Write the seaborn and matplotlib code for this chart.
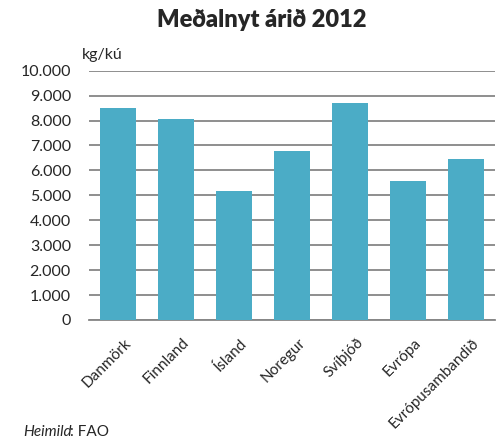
import numpy as np
import pandas as pd
import matplotlib
matplotlib.use('Agg')
import matplotlib.pyplot as plt
import matplotlib.transforms as mtransforms
import seaborn as sns

# Data (kg per cow, 2012)
countries = ['Danmörk', 'Finnland', 'Ísland', 'Noregur', 'Svíþjóð', 'Evrópa', 'Evrópusambandið']
milk_yield = [8520, 8080, 5190, 6780, 8700, 5560, 6460]
y_ticks = [0, 1000, 2000, 3000, 4000, 5000, 6000, 7000, 8000, 9000, 10000]
y_tick_labels = ['0', '1.000', '2.000', '3.000', '4.000', '5.000', '6.000', '7.000', '8.000', '9.000', '10.000']

df = pd.DataFrame({'land': countries, 'nyt': milk_yield})

sns.set_style('white')
plt.rcParams['font.family'] = ['Lato', 'DejaVu Sans']

fig = plt.figure(figsize=(5, 4.41), dpi=100)
ax = fig.add_axes([0.178, 0.2744, 0.812, 0.5653])

sns.barplot(data=df, x='land', y='nyt', color='#4BACC6', saturation=1, width=0.62,
            linewidth=0, ax=ax, zorder=3)

ax.set_ylim(0, 10000)
ax.set_xlim(-0.5, len(countries) - 0.5)
ax.set_yticks(y_ticks)
ax.set_yticklabels(y_tick_labels, fontsize=11.5)
ax.yaxis.grid(True, color='#868686', linewidth=1.3, zorder=0)
ax.set_axisbelow(True)
ax.tick_params(axis='y', length=0, pad=13)

# tick marks between categories
ax.set_xticks(np.arange(len(countries) + 1) - 0.5, minor=True)
ax.set_xticks(np.arange(len(countries)))
ax.set_xticklabels(countries, rotation=45, ha='right', rotation_mode='anchor', fontsize=11)
ax.tick_params(axis='x', which='major', length=0, pad=4)
ax.tick_params(axis='x', which='minor', length=6, width=1.3, color='#868686', direction='out')
offset = mtransforms.ScaledTranslation(0.06, -0.10, fig.dpi_scale_trans)
for lbl in ax.get_xticklabels():
    lbl.set_transform(lbl.get_transform() + offset)

ax.set_xlabel('')
ax.set_ylabel('')
for side in ['top', 'right', 'left']:
    ax.spines[side].set_visible(False)
ax.spines['bottom'].set_color('#868686')
ax.spines['bottom'].set_linewidth(1.3)

fig.text(0.524, 0.955, 'Meðalnyt árið 2012', ha='center', va='center', fontsize=17, fontweight='heavy')
fig.text(0.164, 0.875, 'kg/kú', ha='left', va='center', fontsize=11.5)
fig.text(0.046, 0.004, 'Heimild', ha='left', va='bottom', fontsize=11, style='italic')
fig.text(0.14, 0.004, ': FAO', ha='left', va='bottom', fontsize=11)

fig.savefig('out.png', dpi=100)
